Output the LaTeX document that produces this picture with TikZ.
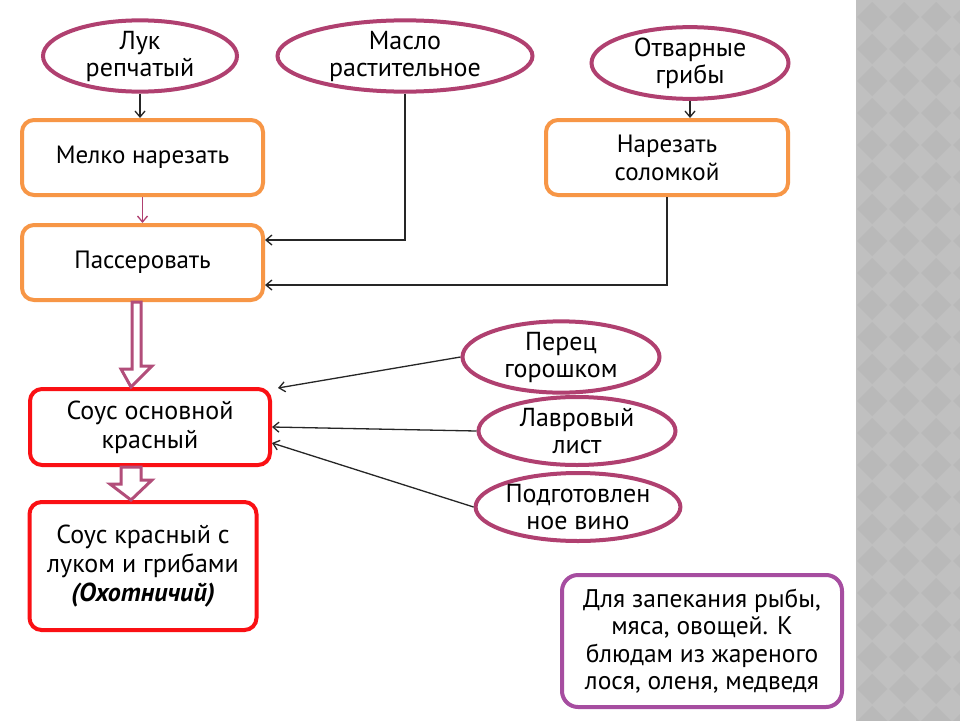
\documentclass[tikz,border=0pt]{standalone}
\usepackage{fontspec}
\setmainfont{PT Sans}
\usetikzlibrary{shapes.geometric,arrows.meta,calc}
\definecolor{ellcol}{RGB}{176,64,112}
\definecolor{orangecol}{RGB}{247,150,70}
\definecolor{redcol}{RGB}{250,16,20}
\definecolor{bacol}{RGB}{178,78,122}
\definecolor{purplecol}{RGB}{166,77,160}
\definecolor{stripebg}{RGB}{192,192,192}
\definecolor{stripedk}{RGB}{185,185,185}
\tikzset{
  ingredient/.style={ellipse, draw=ellcol, line width=4pt, fill=white, inner sep=0pt, align=center,
    font=\fontsize{26}{27}\selectfont},
  stepbox/.style={draw=orangecol, line width=4pt, rounded corners=12pt, fill=white, inner sep=0pt, align=center,
    font=\fontsize{25}{28}\selectfont},
  saucebox/.style={draw=redcol, line width=4pt, rounded corners=12pt, fill=white, inner sep=0pt, align=center,
    font=\fontsize{26}{29}\selectfont},
  notebox/.style={draw=purplecol, line width=4pt, rounded corners=16pt, fill=white, inner sep=0pt, align=center,
    font=\fontsize{25.5}{27.5}\selectfont},
  thinarrow/.style={line width=1.3pt, draw=black!85, -{Straight Barb[length=6pt,width=10pt]}},
  blockarrow/.style={draw=bacol, line width=3pt, fill=white, line join=miter},
}
\begin{document}
\begin{tikzpicture}[x=1pt,y=-1pt]
\useasboundingbox (0,0) rectangle (960,720);
\fill[white] (0,0) rectangle (960,720);
% grey stripe
\fill[stripebg] (856,-5) rectangle (965,725);
\begin{scope}
\clip (856,-5) rectangle (965,725);
\foreach \i in {-1,...,3} {
  \foreach \j in {-1,...,24} {
    \fill[stripedk] ({872+32*\i},{17+32*\j-15}) -- ({872+32*\i+15},{17+32*\j}) -- ({872+32*\i},{17+32*\j+15}) -- ({872+32*\i-15},{17+32*\j}) -- cycle;
  }
}
\end{scope}

% nodes
\node[ingredient, minimum width=194, minimum height=68] (luk) at (140,56) {Лук\\репчатый};
\node[ingredient, minimum width=255, minimum height=68] (maslo) at (405,56) {Масло\\растительное};
\node[ingredient, minimum width=197, minimum height=70] (griby) at (690,63) {Отварные\\грибы};

\node[stepbox, minimum width=241, minimum height=75] (melko) at (142.5,157.5) {Мелко нарезать};
\node[stepbox, minimum width=242, minimum height=75] (narez) at (667,157.5) {Нарезать\\соломкой};
\node[stepbox, minimum width=241, minimum height=75] (pass) at (142.5,262.5) {Пассеровать};

\node[saucebox, minimum width=240, minimum height=76] (sous) at (150,427) {Соус основной\\красный};
\node[saucebox, minimum width=227, minimum height=128] (ohot) at (143,566) {Соус красный с\\луком и грибами\\\textbf{\textit{(Охотничий)}}};

\node[ingredient, minimum width=197, minimum height=70] (perets) at (561,357) {Перец\\горошком};
\node[ingredient, minimum width=197, minimum height=68] (lavr) at (577,431) {Лавровый\\лист};
\node[ingredient, minimum width=200, minimum height=68] (vino) at (578,507) {Подготовлен\\ное вино};

\node[notebox, minimum width=280, minimum height=132] (note) at (702,641) {Для запекания рыбы,\\мяса, овощей. К\\блюдам из жареного\\лося, оленя, медведя};

% connectors
\coordinate (m1) at (405,240);
\coordinate (m2) at (667,285);
\coordinate (pe) at (278,388);
\draw[thinarrow] (luk.south) -- (luk.south |- melko.north);
\draw[thinarrow, draw=ellcol] (melko.south) -- (pass.north);
\draw[thinarrow] (maslo.south) |- (pass.east |- m1);
\draw[thinarrow] (griby.south) -- (griby.south |- narez.north);
\draw[thinarrow] (narez.south) |- (pass.east |- m2);
\draw[thinarrow] (perets.west) -- (pe);
\draw[thinarrow] (lavr.west) -- (sous.east);
\draw[thinarrow] (vino.west) -- ($(sous.east)+(0,16)$);

% block arrows
\draw[blockarrow] ($(pass.south)+(-10.5,0)$) -- ++(0,67) -- ++(-11,0) -- ($(sous.north)+(-19,0)$)
  -- ++(21,-21) -- ++(-11,0) -- ($(pass.south)+(-1.5,0)$) -- cycle;
\draw[blockarrow] ($(sous.south)+(-29,0)$) -- ++(0,17) -- ++(-11,0) -- ($(ohot.north)+(-12,0)$)
  -- ++(21,-20) -- ++(-11,0) -- ($(sous.south)+(-9,0)$) -- cycle;
\end{tikzpicture}
\end{document}
